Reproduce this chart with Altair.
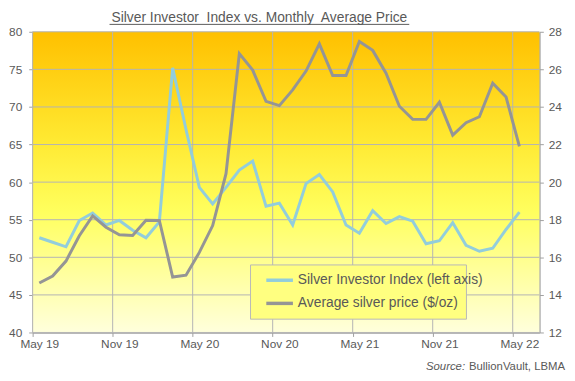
import json
import altair as alt
import pandas as pd

months = ["May 19", "Jun 19", "Jul 19", "Aug 19", "Sep 19", "Oct 19", "Nov 19", "Dec 19",
          "Jan 20", "Feb 20", "Mar 20", "Apr 20", "May 20", "Jun 20", "Jul 20", "Aug 20",
          "Sep 20", "Oct 20", "Nov 20", "Dec 20", "Jan 21", "Feb 21", "Mar 21", "Apr 21",
          "May 21", "Jun 21", "Jul 21", "Aug 21", "Sep 21", "Oct 21", "Nov 21", "Dec 21",
          "Jan 22", "Feb 22", "Mar 22", "Apr 22", "May 22"]
sii = [52.6, 52.0, 51.4, 54.9, 55.9, 54.3, 54.9, 53.6, 52.6, 54.7, 75.2, 67.0, 59.3,
       57.1, 59.3, 61.6, 62.8, 56.8, 57.2, 54.3, 59.8, 61.0, 58.7, 54.3, 53.2, 56.2,
       54.5, 55.4, 54.8, 51.8, 52.2, 54.6, 51.6, 50.8, 51.2, 53.7, 56.0]
price = [14.63, 15.00, 15.80, 17.15, 18.20, 17.60, 17.20, 17.16, 17.97, 17.96, 14.95,
         15.05, 16.26, 17.69, 20.45, 26.84, 25.96, 24.30, 24.07, 24.91, 25.91, 27.36,
         25.67, 25.67, 27.48, 27.01, 25.80, 24.04, 23.34, 23.34, 24.25, 22.50, 23.16,
         23.48, 25.26, 24.53, 21.90]
series_names = ["Silver Investor Index (left axis)", "Average silver price ($/oz)"]
series_colors = ["#92CDDC", "#959595"]
left_ticks = [40, 45, 50, 55, 60, 65, 70, 75, 80]
right_ticks = [12, 14, 16, 18, 20, 22, 24, 26, 28]
title_text = "Silver Investor\u00a0 Index vs. Monthly\u00a0 Average Price"

W, H = 514, 305
TXT = "#595959"
GRID = "#b4b4b4"
AXC = "#a0a0a0"
FONT = "Liberation Sans"

n = len(months)
tick_idx = list(range(0, n, 6))
bounds = [i - 0.5 for i in tick_idx]
tick_labels = [months[i] for i in tick_idx]
label_expr = f"{json.dumps(tick_labels)}[round((datum.value + 0.5) / 6)]"

df_sii = pd.DataFrame({"idx": list(range(n)), "v": sii, "series": series_names[0]})
df_price = pd.DataFrame({"idx": list(range(n)), "v": price, "series": series_names[1]})
df_bounds = pd.DataFrame({"b": bounds})
df_left = pd.DataFrame({"t": left_ticks})
one = pd.DataFrame({"a": [0]})

xscale = alt.Scale(domain=[-0.5, n + 0.5], nice=False, zero=False)
lscale = alt.Scale(domain=[40, 80], nice=False, zero=False)
rscale = alt.Scale(domain=[12, 28], nice=False, zero=False)
cscale = alt.Scale(domain=series_names, range=series_colors)

xaxis = alt.Axis(values=bounds, grid=False, tickSize=4, labelOffset=6.76,
                 labelExpr=label_expr, labelFlush=False, labelOverlap=False,
                 title=None, labelPadding=2, orient="bottom")

grad = alt.LinearGradient(
    gradient="linear",
    stops=[alt.GradientStop(color="#FFC000", offset=0),
           alt.GradientStop(color="#FFE830", offset=0.35),
           alt.GradientStop(color="#FFFF5E", offset=0.6),
           alt.GradientStop(color="#FFFFDC", offset=1)],
    x1=0, x2=0, y1=0, y2=1)

bg = alt.Chart(one).mark_rect(fill=grad).encode(
    x=alt.value(0), x2=alt.value(W), y=alt.value(0), y2=alt.value(H))

hgrid = alt.Chart(df_left).mark_rule(color=GRID, strokeWidth=1).encode(
    y=alt.Y("t:Q", scale=lscale, axis=None))

vgrid = alt.Chart(df_bounds).mark_rule(color=GRID, strokeWidth=1).encode(
    x=alt.X("b:Q", scale=xscale, axis=xaxis))

legend_box = alt.Chart(one).mark_rect(fill="#FFFF80", stroke="#b8b8b8", strokeWidth=1).encode(
    x=alt.value(221), x2=alt.value(440), y=alt.value(236.5), y2=alt.value(291.5))

color_enc = alt.Color("series:N", scale=cscale, legend=alt.Legend(
    orient="none", legendX=235, legendY=236.5, direction="vertical", title=None,
    symbolType="stroke", symbolSize=729, symbolStrokeWidth=3.5, labelFontSize=14,
    labelFont=FONT, labelColor=TXT, labelOffset=3, padding=0, rowPadding=0.5,
    labelLimit=300))

line_sii = alt.Chart(df_sii).mark_line(strokeWidth=3).encode(
    x=alt.X("idx:Q", scale=xscale, axis=xaxis),
    y=alt.Y("v:Q", scale=lscale, axis=alt.Axis(orient="left", values=left_ticks, grid=False,
                                               tickSize=4, labelPadding=7, title=None)),
    color=color_enc)

line_price = alt.Chart(df_price).mark_line(strokeWidth=3).encode(
    x=alt.X("idx:Q", scale=xscale, axis=xaxis),
    y=alt.Y("v:Q", scale=rscale, axis=alt.Axis(orient="right", values=right_ticks, grid=False,
                                               tickSize=4, labelPadding=5, title=None)),
    color=color_enc)

title = alt.Chart(one).mark_text(text=title_text, fontSize=14, font=FONT, color=TXT,
                                 align="center", baseline="alphabetic").encode(
    x=alt.value(230), y=alt.value(-9.5))
underline = alt.Chart(one).mark_rule(color=TXT, strokeWidth=1).encode(
    x=alt.value(78), x2=alt.value(382), y=alt.value(-7.5))

src1 = alt.Chart(one).mark_text(text="Source:", fontSize=11.5, font=FONT, fontStyle="italic",
                                color=TXT, align="left", baseline="alphabetic").encode(
    x=alt.value(399), y=alt.value(343))
src2 = alt.Chart(one).mark_text(text="BullionVault, LBMA", fontSize=11.5, font=FONT,
                                color=TXT, align="right", baseline="alphabetic").encode(
    x=alt.value(540), y=alt.value(343))

chart = alt.layer(bg, hgrid, vgrid, legend_box, line_sii, line_price,
                  title, underline, src1, src2).resolve_scale(
    y="independent").properties(
    width=W, height=H,
    autosize=alt.AutoSizeParams(type="none"),
    padding={"left": 25, "top": 21.5, "right": 28, "bottom": 40},
    background="white",
).configure_axis(
    labelFont=FONT, labelFontSize=12, labelColor=TXT,
    domainColor=AXC, tickColor=AXC, domainWidth=1.5,
).configure_view(stroke=None)

chart.save("out.html", embed_options={"renderer": "svg", "actions": False})
